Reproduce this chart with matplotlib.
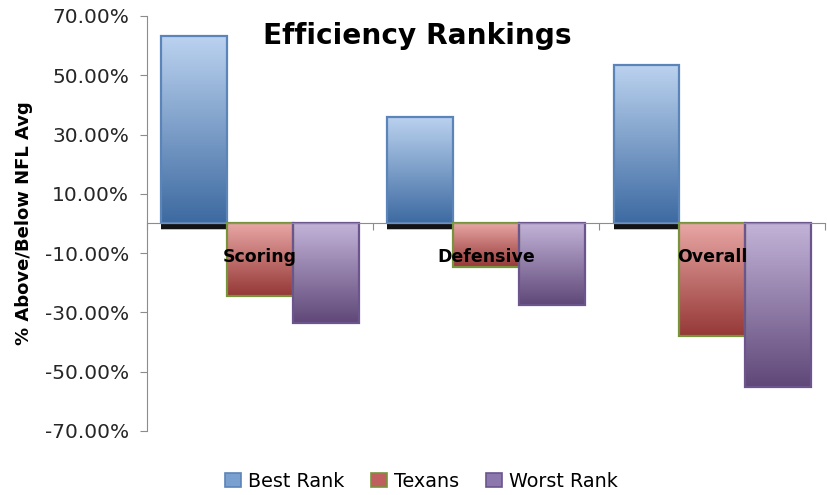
import numpy as np
import matplotlib
matplotlib.use("Agg")
import matplotlib.pyplot as plt
import matplotlib.patheffects as pe
from matplotlib.colors import to_rgb
from matplotlib.patches import Patch

categories = ["Scoring", "Defensive", "Overall"]
best_rank = [63.4, 35.8, 53.5]
texans = [-24.3, -14.6, -37.9]
worst_rank = [-33.6, -27.5, -55.0]
series_names = ["Best Rank", "Texans", "Worst Rank"]
yticks = [-70, -50, -30, -10, 10, 30, 50, 70]

plt.rcParams['font.family'] = ['DejaVu Sans']

fig = plt.figure(figsize=(8.27, 4.95), dpi=100)
ax = fig.add_axes([0.1778, 0.1293, 0.8202, 0.8384])

styles = [
    dict(top="#bcd3f0", bottom="#3d6aa1", edge="#5b84b8", mid="#7aa0d0"),
    dict(top="#e8a7a5", bottom="#953836", edge="#77933c", mid="#c0605e"),
    dict(top="#c3b3d8", bottom="#5f4878", edge="#6b558c", mid="#8d78ad"),
]

x = np.arange(len(categories))
w = 0.291
all_series = [best_rank, texans, worst_rank]
for i, (vals, st) in enumerate(zip(all_series, styles)):
    offs = (i - 1) * w
    bars = ax.bar(x + offs, vals, width=w, color=st["mid"], edgecolor='none', zorder=2)
    if i == 0:
        for b in bars:
            b.set_path_effects([
                pe.SimplePatchShadow(offset=(0, -5), shadow_rgbFace='black', alpha=0.25),
                pe.SimplePatchShadow(offset=(0, -4), shadow_rgbFace='black', alpha=0.9),
                pe.Normal()])
    grad = np.linspace(0, 1, 256)[:, None, None]
    c0 = np.array(to_rgb(st["top"]))[None, None, :]
    c1 = np.array(to_rgb(st["bottom"]))[None, None, :]
    img = c0 * (1 - grad) + c1 * grad
    for b in bars:
        x0, y0 = b.get_x(), b.get_y()
        bw, bh = b.get_width(), b.get_height()
        ylo, yhi = min(y0, y0 + bh), max(y0, y0 + bh)
        im = ax.imshow(img, extent=[x0, x0 + bw, ylo, yhi], origin='upper',
                       aspect='auto', zorder=2.5, interpolation='bilinear')
        im.set_clip_path(b)
    ax.bar(x + offs, vals, width=w, fill=False, edgecolor=st["edge"], linewidth=1.6, zorder=3)

ax.set_xlim(-0.5, len(categories) - 0.5)
ax.set_ylim(-70, 70)

for s in ['top', 'right']:
    ax.spines[s].set_visible(False)
ax.spines['bottom'].set_position(('data', 0))
ax.spines['bottom'].set_color('#8c8c8c')
ax.spines['left'].set_color('#8c8c8c')
ax.spines['bottom'].set_zorder(4)

ax.set_yticks(yticks)
ax.set_yticklabels([f"{v:.2f}%" for v in yticks])
ax.tick_params(axis='y', direction='out', length=5, color='#8c8c8c', labelsize=14.5,
               labelcolor='#262626', pad=8)

ax.set_xticks(np.arange(len(categories) + 1) - 0.5)
ax.set_xticklabels([])
ax.tick_params(axis='x', which='major', direction='out', length=5, color='#8c8c8c')
ax.set_xticks(x, minor=True)
ax.set_xticklabels(categories, minor=True, fontweight='bold', fontsize=12.5)
ax.tick_params(axis='x', which='minor', length=0, pad=18)
ax.xaxis.set_zorder(5)

ax.set_ylabel("% Above/Below NFL Avg", fontweight='bold', fontsize=13)
ax.yaxis.set_label_coords(-0.168, 0.5)

fig.text(0.505, 0.928, "Efficiency Rankings", fontsize=20.2, fontweight='bold',
         ha='center', va='center')

handles = [Patch(facecolor=st["mid"], edgecolor=st["edge"], linewidth=1.2) for st in styles]
fig.legend(handles, series_names, loc='center', bbox_to_anchor=(0.51, 0.028), ncol=3,
           frameon=False, fontsize=13.8, handlelength=0.8, handleheight=0.8,
           handletextpad=0.4, columnspacing=1.4)

fig.savefig("out.png", dpi=100)
